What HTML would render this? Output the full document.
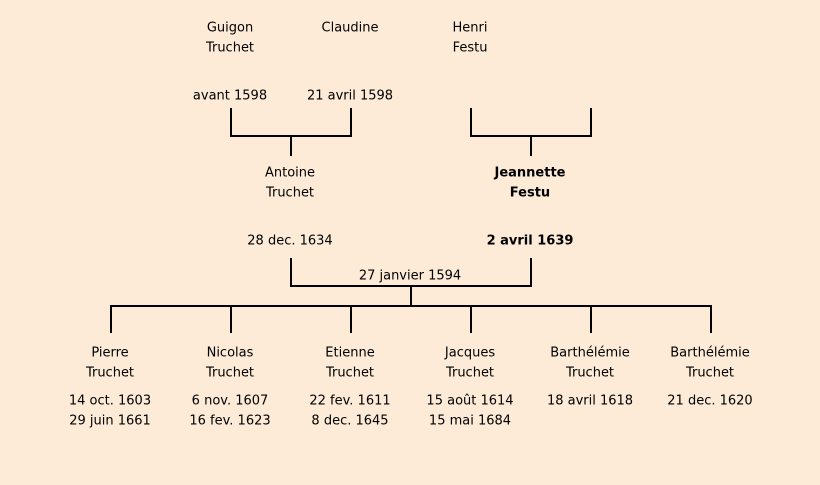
<!DOCTYPE html>
<html><head><meta charset="utf-8"><style>
html,body{margin:0;padding:0;background:#fdebd8;}
svg{display:block;}
text{font-family:"Comic Sans MS","DejaVu Sans","Liberation Sans",sans-serif;font-size:13px;fill:#000;text-anchor:middle;dominant-baseline:middle;}
.b{font-weight:bold;}
</style></head><body>
<svg width="820" height="485" viewBox="0 0 820 485">
<rect width="820" height="485" fill="#fdebd8"/>
<g stroke="#000" stroke-width="2" fill="none">
<path d="M231 108V136H351V108M291 136V156"/>
<path d="M471 108V136H591V108M531 136V156"/>
<path d="M291 258V286H531V258M411 286V306"/>
<path d="M111 333V306H711V333M231 306V333M351 306V333M471 306V333M591 306V333"/>
</g>
<g transform="translate(0,1)">
<text x="230" y="27">Guigon</text><text x="230" y="47">Truchet</text>
<text x="350" y="27">Claudine</text>
<text x="470" y="27">Henri</text><text x="470" y="47">Festu</text>
<text x="230" y="95">avant 1598</text><text x="350" y="95">21 avril 1598</text>
<text x="290" y="172">Antoine</text><text x="290" y="192">Truchet</text>
<text x="290" y="240">28 dec. 1634</text>
<text class="b" x="530" y="172">Jeannette</text><text class="b" x="530" y="192">Festu</text>
<text class="b" x="530" y="240">2 avril 1639</text>
<text x="410" y="275">27 janvier 1594</text>
<text x="110" y="352">Pierre</text><text x="110" y="372">Truchet</text>
<text x="110" y="400">14 oct. 1603</text><text x="110" y="420">29 juin 1661</text>
<text x="230" y="352">Nicolas</text><text x="230" y="372">Truchet</text>
<text x="230" y="400">6 nov. 1607</text><text x="230" y="420">16 fev. 1623</text>
<text x="350" y="352">Etienne</text><text x="350" y="372">Truchet</text>
<text x="350" y="400">22 fev. 1611</text><text x="350" y="420">8 dec. 1645</text>
<text x="470" y="352">Jacques</text><text x="470" y="372">Truchet</text>
<text x="470" y="400">15 août 1614</text><text x="470" y="420">15 mai 1684</text>
<text x="590" y="352">Barthélémie</text><text x="590" y="372">Truchet</text>
<text x="590" y="400">18 avril 1618</text>
<text x="710" y="352">Barthélémie</text><text x="710" y="372">Truchet</text>
<text x="710" y="400">21 dec. 1620</text>
</g>
</svg>
</body></html>
